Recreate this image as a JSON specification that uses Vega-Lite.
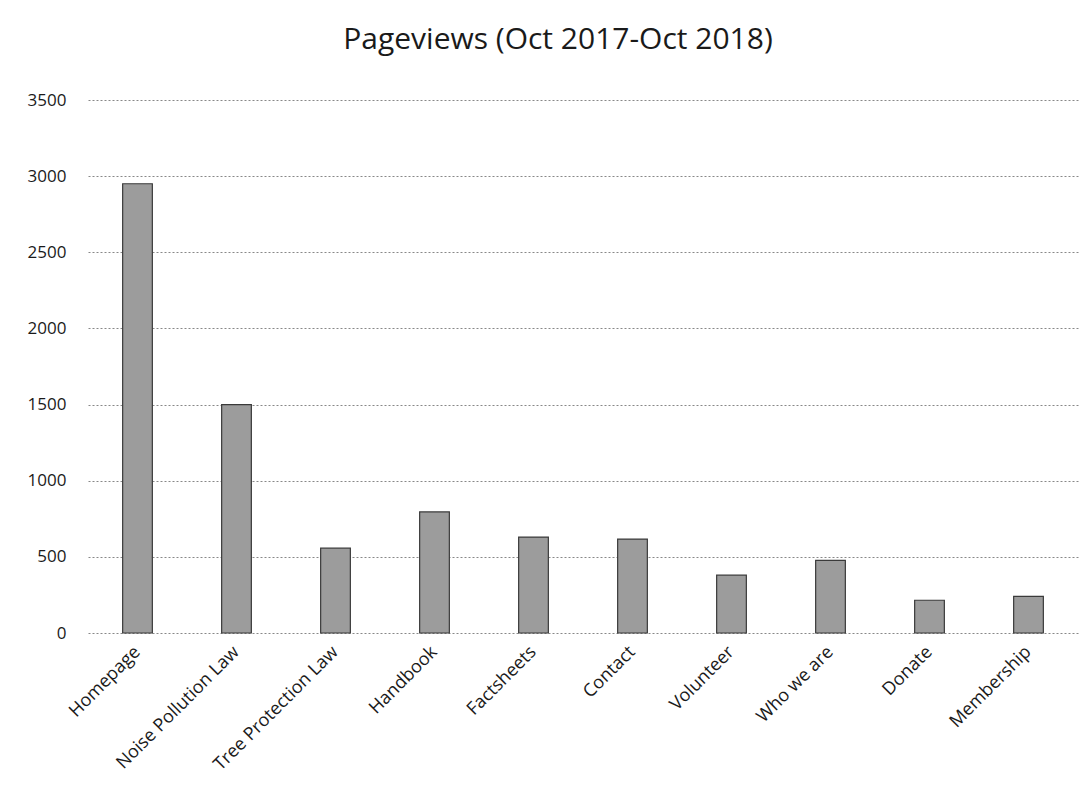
{
  "$schema": "https://vega.github.io/schema/vega-lite/v6.json",
  "width": 990,
  "height": 533,
  "autosize": "none",
  "padding": {"left": 88, "top": 100, "right": 14, "bottom": 170},
  "background": "white",
  "title": {
    "text": "Pageviews (Oct 2017-Oct 2018)",
    "font": "Open Sans",
    "fontSize": 30,
    "fontWeight": "normal",
    "color": "#1a1a1a",
    "anchor": "middle",
    "dx": -25,
    "offset": 36
  },
  "data": {
    "values": [
      {"page": "Homepage", "views": 2950},
      {"page": "Noise Pollution Law", "views": 1500},
      {"page": "Tree Protection Law", "views": 557},
      {"page": "Handbook", "views": 795},
      {"page": "Factsheets", "views": 630},
      {"page": "Contact", "views": 617},
      {"page": "Volunteer", "views": 380},
      {"page": "Who we are", "views": 477},
      {"page": "Donate", "views": 215},
      {"page": "Membership", "views": 241}
    ]
  },
  "mark": {"type": "bar", "fill": "#9c9c9c", "stroke": "#3a3a3a", "strokeWidth": 1.2},
  "encoding": {
    "x": {
      "field": "page",
      "type": "nominal",
      "sort": null,
      "scale": {"paddingInner": 0.7, "paddingOuter": 0.35},
      "axis": {
        "title": null,
        "labelAngle": -45,
        "labelAlign": "right",
        "labelBaseline": "middle",
        "labelFont": "Open Sans",
        "labelFontSize": 18,
        "labelColor": "#1a1a1a",
        "labelPadding": 16,
        "ticks": false,
        "domain": false
      }
    },
    "y": {
      "field": "views",
      "type": "quantitative",
      "scale": {"domain": [0, 3500]},
      "axis": {
        "title": null,
        "values": [0, 500, 1000, 1500, 2000, 2500, 3000, 3500],
        "format": "d",
        "labelFont": "Open Sans",
        "labelFontSize": 17,
        "labelColor": "#1a1a1a",
        "labelPadding": 22,
        "ticks": false,
        "domain": false,
        "grid": true,
        "gridColor": "#888",
        "gridDash": [2, 2],
        "gridWidth": 1
      }
    }
  },
  "config": {"view": {"stroke": null}}
}
